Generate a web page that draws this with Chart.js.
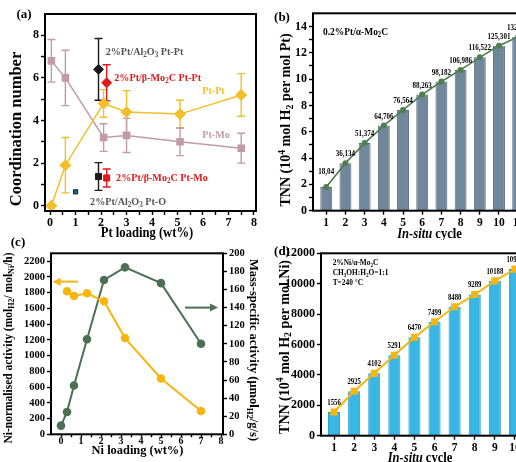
<!DOCTYPE html>
<html>
<head>
<meta charset="utf-8">
<title>Pt and Ni on Mo2C</title>
<script src="https://cdn.jsdelivr.net/npm/chart.js@4.4.1/dist/chart.umd.min.js"></script>
<style>
  html, body { margin: 0; padding: 0; background: #fff; }
  body { position: relative; width: 516px; height: 462px; overflow: hidden; }
  canvas { position: absolute; }
</style>
</head>
<body>
<canvas id="chartA" width="260" height="250" style="left:0;top:0"></canvas>
<canvas id="chartB" width="272" height="240" style="left:260px;top:0"></canvas>
<canvas id="chartC" width="260" height="226" style="left:0;top:236px"></canvas>
<canvas id="chartD" width="272" height="226" style="left:260px;top:236px"></canvas>
<script>
// (a) coordination numbers vs Pt loading
var ptLoading = [0.05, 0.6, 2.1, 3.0, 5.1, 7.5];
var cnPtPt = [0, 1.9, 4.8, 4.4, 4.3, 5.2];
var cnPtPtErr = [0, 1.3, 0.65, 1.0, 0.65, 1.0];
var cnPtMo = [6.8, 6.0, 3.2, 3.3, 3.0, 2.7];
var cnPtMoErr = [1.0, 1.3, 0.65, 0.8, 0.65, 0.7];
// reference samples: Al2O3 Pt-Pt, b-Mo2C Pt-Pt, Al2O3 Pt-Mo, b-Mo2C Pt-Mo, Al2O3 Pt-O
var refLoading = [1.9, 2.22, 1.9, 2.22, 1.0];
var refCN = [6.4, 5.77, 1.37, 1.3, 0.65];
var refErr = [1.45, 0.85, 0.65, 0.42, 0];
var aTicksX = [0, 0.5, 1, 1.5, 2, 2.5, 3, 3.5, 4, 4.5, 5, 5.5, 6, 6.5, 7, 7.5, 8];
var aLabelsX = [0, 1, 2, 3, 4, 5, 6, 7, 8];
var aTicksY = [0, 1, 2, 3, 4, 5, 6, 7, 8];
var aLabelsY = [0, 2, 4, 6, 8];

// (b) TNN of 0.2%Pt/a-Mo2C, 10^4 mol H2 per mol Pt
var cyclesB = [1, 2, 3, 4, 5, 6, 7, 8, 9, 10, 11];
var tnnPt = [1.8043, 3.6134, 5.1374, 6.4706, 7.6564, 8.8263, 9.8182, 10.6986, 11.6522, 12.5301, 13.2112];
var tnnPtText = ['18,04', '36,134', '51,374', '64,706', '76,564', '88,263', '98,182', '106,986', '116,522', '125,301', '132,112'];
var bTicksY = [0, 1, 2, 3, 4, 5, 6, 7, 8, 9, 10, 11, 12, 13, 14];
var bLabelsY = [0, 2, 4, 6, 8, 10, 12, 14];

// (c) activity vs Ni loading
var niLoadMass = [0, 0.3, 0.65, 1.3, 2.15, 3.2, 5.0, 7.0];
var massActivity = [9.6, 24.7, 54, 105, 170.5, 184.5, 167, 100];
var niLoadNorm = [0.3, 0.65, 1.3, 2.15, 3.2, 5.0, 7.0];
var niNormActivity = [1817, 1758, 1792, 1690, 1223, 709, 297];
var cTicksX = [0, 0.5, 1, 1.5, 2, 2.5, 3, 3.5, 4, 4.5, 5, 5.5, 6, 6.5, 7, 7.5, 8];
var cLabelsX = [0, 1, 2, 3, 4, 5, 6, 7, 8];
var cTicksLeft = [0, 200, 400, 600, 800, 1000, 1200, 1400, 1600, 1800, 2000, 2200];
var cTicksRight = [0, 20, 40, 60, 80, 100, 120, 140, 160, 180, 200];

// (d) TNN of 2%Ni/a-Mo2C
var cyclesD = [1, 2, 3, 4, 5, 6, 7, 8, 9, 10];
var tnnNi = [1556, 2925, 4102, 5291, 6470, 7499, 8480, 9289, 10188, 10960];
var dTicksY = [0, 2000, 4000, 6000, 8000, 10000, 12000];

var YEL = '#f2bf2c', MAUVE = '#c39ba7', RED = '#e0191b', INK = '#1a1a1a';
var GREEN = '#4c7152', ORANGE = '#f6b60f', SLATE = '#71879b', SKY = '#3ab6e5';

Chart.defaults.font.family = '"Liberation Serif", "Times New Roman", serif';
Chart.defaults.font.weight = 'bold';
Chart.defaults.color = '#000';

function pts(xs, ys) {
  return xs.map(function (x, i) { return {x: x, y: ys[i]}; });
}

// linear axis with explicit tick marks, labels only where listed, fixed thickness
function axis(o) {
  return {
    type: 'linear',
    min: o.min,
    max: o.max,
    position: o.position,
    offset: false,
    grid: {drawOnChartArea: false, offset: false, tickLength: o.tick || 4, tickWidth: 1.4, tickColor: '#000'},
    border: {display: false},
    ticks: {
      autoSkip: false, maxRotation: 0, padding: o.pad == null ? 2 : o.pad,
      font: {size: o.size || 11},
      callback: function (v) { return o.labels.indexOf(v) >= 0 ? String(v) : ''; }
    },
    afterBuildTicks: function (s) {
      s.ticks = o.marks.map(function (v) { return {value: v}; });
    },
    afterFit: function (s) {
      if (o.w != null) s.width = o.w;
      if (o.h != null) s.height = o.h;
      // labels may run past the canvas edge, as in the source figure
      s.paddingLeft = s.paddingRight = s.paddingTop = s.paddingBottom = 0;
    }
  };
}

// text with sub/superscripts and italics
function richText(ctx, parts, x, y, o) {
  var size = o.size, segs = [], total = 0;
  ctx.save();
  ctx.translate(x, y);
  if (o.rot) ctx.rotate(o.rot);
  if (o.sx) ctx.scale(o.sx, 1);
  parts.forEach(function (p) {
    if (typeof p === 'string') p = [p, ''];
    var small = p[1] === 'sub' || p[1] === 'sup';
    var font = (p[1] === 'i' ? 'italic ' : '') + 'bold ' + (small ? size * 0.7 : size) + 'px "Liberation Serif"';
    ctx.font = font;
    var w = ctx.measureText(p[0]).width;
    segs.push({t: p[0], font: font, w: w, dy: p[1] === 'sub' ? size * 0.28 : (p[1] === 'sup' ? -size * 0.32 : 0)});
    total += w;
  });
  var cx = o.align === 'left' ? 0 : -total / 2;
  ctx.fillStyle = o.color || '#000';
  ctx.textBaseline = 'middle';
  segs.forEach(function (s) {
    ctx.font = s.font;
    ctx.fillText(s.t, cx, s.dy);
    cx += s.w;
  });
  ctx.restore();
}

var frame = {
  id: 'frame',
  afterDraw: function (c) {
    var a = c.chartArea, ctx = c.ctx;
    ctx.save();
    ctx.strokeStyle = '#000';
    ctx.lineWidth = 2;
    ctx.strokeRect(a.left, a.top, a.right - a.left, a.bottom - a.top);
    ctx.restore();
  }
};

var errorBars = {
  id: 'errorBars',
  beforeDatasetsDraw: function (c) {
    var ctx = c.ctx, xs = c.scales.x, ys = c.scales.y;
    c.data.datasets.forEach(function (ds) {
      if (!ds.err) return;
      ctx.save();
      ctx.strokeStyle = ds.borderColor;
      ctx.lineWidth = 1.4;
      ds.data.forEach(function (p, i) {
        var e = ds.err[i];
        if (!e) return;
        var x = xs.getPixelForValue(p.x);
        var y1 = ys.getPixelForValue(p.y - e), y2 = ys.getPixelForValue(p.y + e);
        ctx.beginPath();
        ctx.moveTo(x, y1); ctx.lineTo(x, y2);
        ctx.moveTo(x - 4, y1); ctx.lineTo(x + 4, y1);
        ctx.moveTo(x - 4, y2); ctx.lineTo(x + 4, y2);
        ctx.stroke();
      });
      ctx.restore();
    });
  }
};

function opts(pad, scales) {
  return {
    responsive: false,
    animation: false,
    events: [],
    layout: {autoPadding: false, padding: pad},
    plugins: {legend: {display: false}, tooltip: {enabled: false}},
    scales: scales
  };
}

// ---------- (a) ----------
var refColors = [INK, RED, INK, RED, '#1b6787'];
var refShapes = ['rectRot', 'rectRot', 'rect', 'rect', 'rect'];
var refDatasets = refLoading.map(function (x, i) {
  return {
    data: [{x: x, y: refCN[i]}], err: [refErr[i]],
    borderColor: i === 4 ? '#0b2430' : refColors[i], backgroundColor: refColors[i],
    pointStyle: refShapes[i], pointRadius: i === 4 ? 3 : (refShapes[i] === 'rect' ? 4.3 : 5),
    pointBorderWidth: 1, order: 0
  };
});

new Chart(document.getElementById('chartA'), {
  type: 'scatter',
  data: {
    datasets: [
      {data: pts(ptLoading, cnPtPt), err: cnPtPtErr, showLine: true, borderColor: YEL, backgroundColor: YEL,
        borderWidth: 1.5, pointStyle: 'rectRot', pointRadius: 5, order: 1},
      {data: pts(ptLoading, cnPtMo), err: cnPtMoErr, showLine: true, borderColor: MAUVE, backgroundColor: MAUVE,
        borderWidth: 1.5, pointStyle: 'rect', pointRadius: 4.3, order: 2}
    ].concat(refDatasets)
  },
  options: opts({top: 14, right: 4, left: 0, bottom: 0}, {
    x: axis({min: -0.2, max: 8.08, marks: aTicksX, labels: aLabelsX, h: 39, size: 12, pad: 1}),
    y: axis({min: -0.25, max: 9, marks: aTicksY, labels: aLabelsY, w: 45, size: 12, pad: 2})
  }),
  plugins: [errorBars, frame, {
    id: 'decoA',
    afterDraw: function (c) {
      var ctx = c.ctx, xs = c.scales.x, ys = c.scales.y;
      function note(parts, x, y, color) {
        richText(ctx, parts, xs.getPixelForValue(x), ys.getPixelForValue(y), {size: 11, sx: 0.92, color: color, align: 'left'});
      }
      richText(ctx, ['(a)'], 24, 15, {size: 13});
      richText(ctx, ['Coordination number'], 17, 129, {size: 16.5, rot: -Math.PI / 2});
      richText(ctx, ['Pt loading (wt%)'], 147, 233, {size: 14, sx: 0.9});
      note(['2%Pt/Al', ['2', 'sub'], 'O', ['3', 'sub'], ' Pt-Pt'], 2.18, 7.2, '#555');
      note(['2%Pt/β-Mo', ['2', 'sub'], 'C Pt-Pt'], 2.52, 6.0, RED);
      note(['Pt-Pt'], 5.97, 5.4, YEL);
      note(['Pt-Mo'], 5.97, 3.32, MAUVE);
      note(['2%Pt/β-Mo', ['2', 'sub'], 'C Pt-Mo'], 2.59, 1.3, RED);
      note(['2%Pt/Al', ['2', 'sub'], 'O', ['3', 'sub'], ' Pt-O'], 1.57, 0.17, '#555');
    }
  }]
});

// ---------- (b) ----------
new Chart(document.getElementById('chartB'), {
  type: 'bar',
  data: {
    datasets: [
      {type: 'line', data: pts(cyclesB, tnnPt), borderColor: '#4f7f4f', backgroundColor: '#4f7f4f',
        borderWidth: 1.6, pointRadius: 2.2, order: 0},
      {data: pts(cyclesB, tnnPt), backgroundColor: SLATE, borderColor: '#566b7f', borderWidth: 1,
        barPercentage: 0.62, categoryPercentage: 1, order: 1}
    ]
  },
  options: opts({top: 13.3, right: 0, left: 0, bottom: 0}, {
    x: axis({min: 0.31, max: 11.72, marks: cyclesB, labels: cyclesB, h: 29.3, size: 11.5, pad: 1}),
    y: axis({min: 0, max: 15, marks: bTicksY, labels: bLabelsY, w: 53, size: 12, pad: 2})
  }),
  plugins: [frame, {
    id: 'decoB',
    afterDraw: function (c) {
      var ctx = c.ctx, meta = c.getDatasetMeta(0);
      meta.data.forEach(function (p, i) {
        richText(ctx, [tnnPtText[i]], p.x, p.y - (i === 0 ? 15 : 9), {size: 8, sx: 0.88});
      });
      richText(ctx, ['(b)'], 22, 18, {size: 13});
      richText(ctx, ['TNN (10', ['4', 'sup'], ' mol H', ['2', 'sub'], ' per mol Pt)'], 26.7, 120, {size: 14, rot: -Math.PI / 2});
      richText(ctx, [['In-situ', 'i'], ' cycle'], 169.5, 234, {size: 14, sx: 0.9});
      richText(ctx, ['0.2%Pt/α-Mo', ['2', 'sub'], 'C'], 63, 32.3, {size: 10.5, sx: 0.9, align: 'left'});
    }
  }]
});

// ---------- (c) ----------
function arrow(ctx, x1, x2, y, color) {
  var dir = x2 > x1 ? 1 : -1;
  ctx.save();
  ctx.strokeStyle = color;
  ctx.fillStyle = color;
  ctx.lineWidth = 2;
  ctx.beginPath();
  ctx.moveTo(x1, y);
  ctx.lineTo(x2 - dir * 6, y);
  ctx.stroke();
  ctx.beginPath();
  ctx.moveTo(x2, y);
  ctx.lineTo(x2 - dir * 8, y - 4);
  ctx.lineTo(x2 - dir * 8, y + 4);
  ctx.closePath();
  ctx.fill();
  ctx.restore();
}

new Chart(document.getElementById('chartC'), {
  type: 'scatter',
  data: {
    datasets: [
      {data: pts(niLoadNorm, niNormActivity), yAxisID: 'y', showLine: true, borderColor: ORANGE, backgroundColor: ORANGE,
        borderWidth: 2, pointRadius: 3.3},
      {data: pts(niLoadMass, massActivity), yAxisID: 'y2', showLine: true, borderColor: GREEN, backgroundColor: GREEN,
        borderWidth: 2, pointRadius: 3.3}
    ]
  },
  options: opts({top: 17.3, right: 0, left: 0, bottom: 0}, {
    x: axis({min: -0.5, max: 8.1, marks: cTicksX, labels: cLabelsX, h: 27.7, size: 10, pad: -2, tick: 3}),
    y: axis({min: 0, max: 2300, marks: cTicksLeft, labels: cTicksLeft, w: 51, size: 10.5, pad: 2, position: 'left'}),
    y2: axis({min: 0, max: 200, marks: cTicksRight, labels: cTicksRight, w: 37, size: 10.5, pad: 2, position: 'right'})
  }),
  plugins: [frame, {
    id: 'decoC',
    afterDraw: function (c) {
      var ctx = c.ctx, xs = c.scales.x;
      arrow(ctx, xs.getPixelForValue(0.85), xs.getPixelForValue(-0.42), c.scales.y.getPixelForValue(1940), ORANGE);
      arrow(ctx, xs.getPixelForValue(6.2), xs.getPixelForValue(7.85), c.scales.y2.getPixelForValue(140), GREEN);
      richText(ctx, ['(c)'], 18, 7, {size: 13});
      richText(ctx, ['Ni-normalised activity (mol', ['H2', 'sub'], '/ mol', ['Ni', 'sub'], '/h)'], 9, 112, {size: 11.5, rot: -Math.PI / 2});
      richText(ctx, ['Mass-specific activity (μmol', ['H2', 'sub'], '/g/s)'], 253, 114, {size: 12.5, rot: Math.PI / 2});
      richText(ctx, ['Ni loading (wt%)'], 137.5, 215, {size: 13.5, sx: 0.92});
    }
  }]
});

// ---------- (d) ----------
new Chart(document.getElementById('chartD'), {
  type: 'bar',
  data: {
    datasets: [
      {type: 'line', data: pts(cyclesD, tnnNi), borderColor: ORANGE, backgroundColor: ORANGE,
        borderWidth: 2, pointStyle: 'rect', pointRadius: 3.6, order: 0},
      {data: pts(cyclesD, tnnNi), backgroundColor: SKY, borderColor: '#2399c8', borderWidth: 1,
        barPercentage: 0.6, categoryPercentage: 1, order: 1}
    ]
  },
  options: opts({top: 17.3, right: 0, left: 0, bottom: 0}, {
    x: axis({min: 0.35, max: 10.85, marks: cyclesD, labels: cyclesD, h: 26.3, size: 11.5, pad: 1}),
    y: axis({min: 0, max: 12000, marks: dTicksY, labels: dTicksY, w: 61, size: 12, pad: 2})
  }),
  plugins: [frame, {
    id: 'decoD',
    afterDraw: function (c) {
      var ctx = c.ctx, meta = c.getDatasetMeta(0);
      meta.data.forEach(function (p, i) {
        richText(ctx, [String(tnnNi[i])], p.x, p.y - 9, {size: 7.5, sx: 0.9});
      });
      richText(ctx, ['(d)'], 22, 15.7, {size: 13});
      richText(ctx, ['TNN (10', ['4', 'sup'], ' mol H', ['2', 'sub'], ' per mol Ni)'], 25, 111, {size: 14, rot: -Math.PI / 2});
      richText(ctx, [['In-situ', 'i'], ' cycle'], 160, 222, {size: 14, sx: 0.9});
      richText(ctx, ['2%Ni/α-Mo', ['2', 'sub'], 'C'], 72.7, 26.7, {size: 9, sx: 0.82, align: 'left'});
      richText(ctx, ['CH', ['3', 'sub'], 'OH:H', ['2', 'sub'], 'O=1:1'], 72.7, 36.7, {size: 9, sx: 0.82, align: 'left'});
      richText(ctx, ['T=240 °C'], 72.7, 46.7, {size: 9, sx: 0.82, align: 'left'});
    }
  }]
});
</script>
</body>
</html>
